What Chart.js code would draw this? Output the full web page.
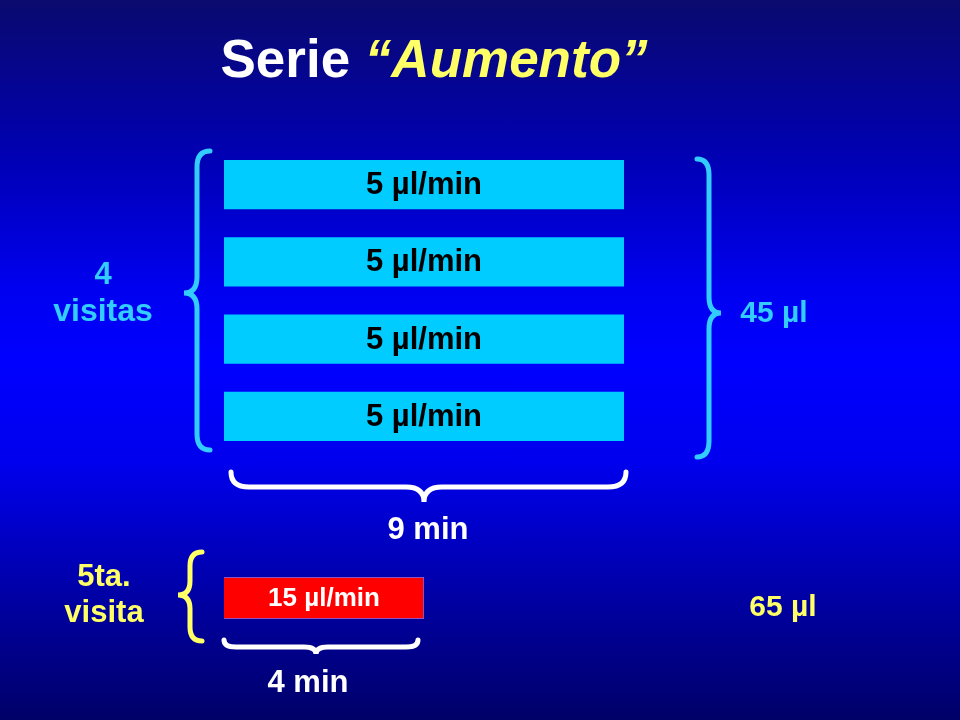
<!DOCTYPE html>
<html>
<head>
<meta charset="utf-8">
<script src="https://cdn.jsdelivr.net/npm/chart.js@4/dist/chart.umd.min.js"></script>
<style>
  html, body { margin: 0; padding: 0; }
  #slide {
    position: relative; width: 960px; height: 720px; overflow: hidden;
    background: linear-gradient(to bottom, #0a0a6e 0%, #0000b4 22%, #0000f0 40%, #0000ff 50%, #0000ee 64%, #0000a0 84%, #000068 100%);
  }
  #slide canvas { position: absolute; left: 0; top: 0; }
</style>
</head>
<body>
<div id="slide">
  <canvas id="visitsChart" width="960" height="720"></canvas>
  <canvas id="lastChart" width="960" height="720"></canvas>
</div>
<script>
// first four visits
var visits = ["1a. visita", "2a. visita", "3a. visita", "4a. visita"];
var minutes = [9, 9, 9, 9];
var rates = [5, 5, 5, 5];

// fifth visit
var lastVisit = ["5ta. visita"];
var lastMinutes = [4];
var lastRates = [15];

var CYAN = "#00ccff";
var CYAN_TEXT = "#33ccff";
var YELLOW = "#ffff66";
var FONT = "'Liberation Sans', Arial, sans-serif";

// curly brace, vertical; dir = -1 tip points left, +1 tip points right
function braceV(ctx, x, yTop, yMid, yBot, dir, h, r, color) {
    ctx.save();
    ctx.strokeStyle = color;
    ctx.lineWidth = 5;
    ctx.lineCap = "round";
    ctx.beginPath();
    ctx.moveTo(x - dir * h, yTop);
    ctx.quadraticCurveTo(x, yTop, x, yTop + r);
    ctx.lineTo(x, yMid - r);
    ctx.quadraticCurveTo(x, yMid, x + dir * h, yMid);
    ctx.quadraticCurveTo(x, yMid, x, yMid + r);
    ctx.lineTo(x, yBot - r);
    ctx.quadraticCurveTo(x, yBot, x - dir * h, yBot);
    ctx.stroke();
    ctx.restore();
}

// curly brace, horizontal, tip pointing down
function braceH(ctx, y, xL, xMid, xR, h, r, color) {
    ctx.save();
    ctx.strokeStyle = color;
    ctx.lineWidth = 5;
    ctx.lineCap = "round";
    ctx.beginPath();
    ctx.moveTo(xL, y - h);
    ctx.quadraticCurveTo(xL, y, xL + r, y);
    ctx.lineTo(xMid - r, y);
    ctx.quadraticCurveTo(xMid, y, xMid, y + h);
    ctx.quadraticCurveTo(xMid, y, xMid + r, y);
    ctx.lineTo(xR - r, y);
    ctx.quadraticCurveTo(xR, y, xR, y - h);
    ctx.stroke();
    ctx.restore();
}

function text(ctx, str, x, y, color, size, style) {
    ctx.save();
    ctx.fillStyle = color;
    ctx.font = (style || "bold") + " " + size + "px " + FONT;
    ctx.textAlign = "center";
    ctx.textBaseline = "middle";
    ctx.fillText(str, x, y);
    ctx.restore();
}

// writes the rate inside every bar
var barText = {
    id: "barText",
    afterDatasetsDraw: function(chart, args, opts) {
        var ctx = chart.ctx;
        var ds = chart.data.datasets[0];
        chart.getDatasetMeta(0).data.forEach(function(bar, i) {
            text(ctx, ds.rates[i] + " µl/min", (bar.x + bar.base) / 2, bar.y + 1, opts.color, opts.size);
        });
    }
};

// title, braces and side notes of the top group
var topNotes = {
    id: "topNotes",
    afterDraw: function(chart) {
        var ctx = chart.ctx;
        var a = chart.chartArea;
        var xs = chart.scales.x;

        // title
        ctx.save();
        ctx.textBaseline = "middle";
        var t1 = "Serie ";
        var t2 = "“Aumento”";
        ctx.font = "bold 53px " + FONT;
        var w1 = ctx.measureText(t1).width;
        ctx.font = "bold italic 53px " + FONT;
        var w2 = ctx.measureText(t2).width;
        var x0 = 434 - (w1 + w2) / 2;
        ctx.textAlign = "left";
        ctx.font = "bold 53px " + FONT;
        ctx.fillStyle = "#ffffff";
        ctx.fillText(t1, x0, 62);
        ctx.font = "bold italic 53px " + FONT;
        ctx.fillStyle = YELLOW;
        ctx.fillText(t2, x0 + w1, 62);
        ctx.restore();

        // braces round the four bars
        braceV(ctx, 197, a.top + 5, 293, a.bottom - 5, -1, 13, 16, CYAN_TEXT);
        braceV(ctx, 709, a.top + 13, 313, a.bottom + 2, 1, 12, 16, CYAN_TEXT);
        var l = xs.getPixelForValue(0), r = xs.getPixelForValue(minutes[0]);
        braceH(ctx, 487, l + 7, (l + r) / 2, r + 2, 15, 18, "#ffffff");

        text(ctx, "4", 103, 275, CYAN_TEXT, 31);
        text(ctx, "visitas", 103, 312, CYAN_TEXT, 32);
        text(ctx, "45 µl", 774, 314, CYAN_TEXT, 30);
        text(ctx, minutes[0] + " min", 428, 530, "#ffffff", 31);
    }
};

var lastNotes = {
    id: "lastNotes",
    afterDraw: function(chart) {
        var ctx = chart.ctx;
        var a = chart.chartArea;
        var xs = chart.scales.x;
        braceV(ctx, 190, a.top - 25, 595, a.bottom + 22, -1, 12, 14, YELLOW);
        var l = xs.getPixelForValue(0), r = xs.getPixelForValue(lastMinutes[0]);
        braceH(ctx, 647, l, (l + r) / 2 - 8, r - 6, 7, 12, "#ffffff");

        text(ctx, "5ta.", 104, 577, YELLOW, 31);
        text(ctx, "visita", 104, 613, YELLOW, 31);
        text(ctx, "65 µl", 783, 608, YELLOW, 30);
        text(ctx, lastMinutes[0] + " min", 308, 683, "#ffffff", 31);
    }
};

var hiddenScales = function(xmax) {
    return {
        x: { type: "linear", min: 0, max: xmax, display: false },
        y: { type: "category", display: false }
    };
};

new Chart(document.getElementById("visitsChart"), {
    type: "bar",
    data: {
        labels: visits,
        datasets: [{
            data: minutes,
            rates: rates,
            backgroundColor: CYAN,
            borderWidth: 0,
            barPercentage: 0.635,
            categoryPercentage: 1
        }]
    },
    options: {
        indexAxis: "y",
        responsive: false,
        animation: false,
        layout: { padding: { left: 224, right: 336, top: 146, bottom: 265 } },
        scales: hiddenScales(9),
        plugins: {
            legend: { display: false },
            tooltip: { enabled: false },
            barText: { color: "#000000", size: 31 }
        }
    },
    plugins: [barText, topNotes]
});

new Chart(document.getElementById("lastChart"), {
    type: "bar",
    data: {
        labels: lastVisit,
        datasets: [{
            data: lastMinutes,
            rates: lastRates,
            backgroundColor: "#ff0000",
            borderColor: "#6f6fff",
            borderWidth: 1,
            barPercentage: 1,
            categoryPercentage: 1
        }]
    },
    options: {
        indexAxis: "y",
        responsive: false,
        animation: false,
        layout: { padding: { left: 224, right: 536, top: 577, bottom: 101 } },
        scales: hiddenScales(4),
        plugins: {
            legend: { display: false },
            tooltip: { enabled: false },
            barText: { color: "#ffffff", size: 26 }
        }
    },
    plugins: [barText, lastNotes]
});
</script>
</body>
</html>
